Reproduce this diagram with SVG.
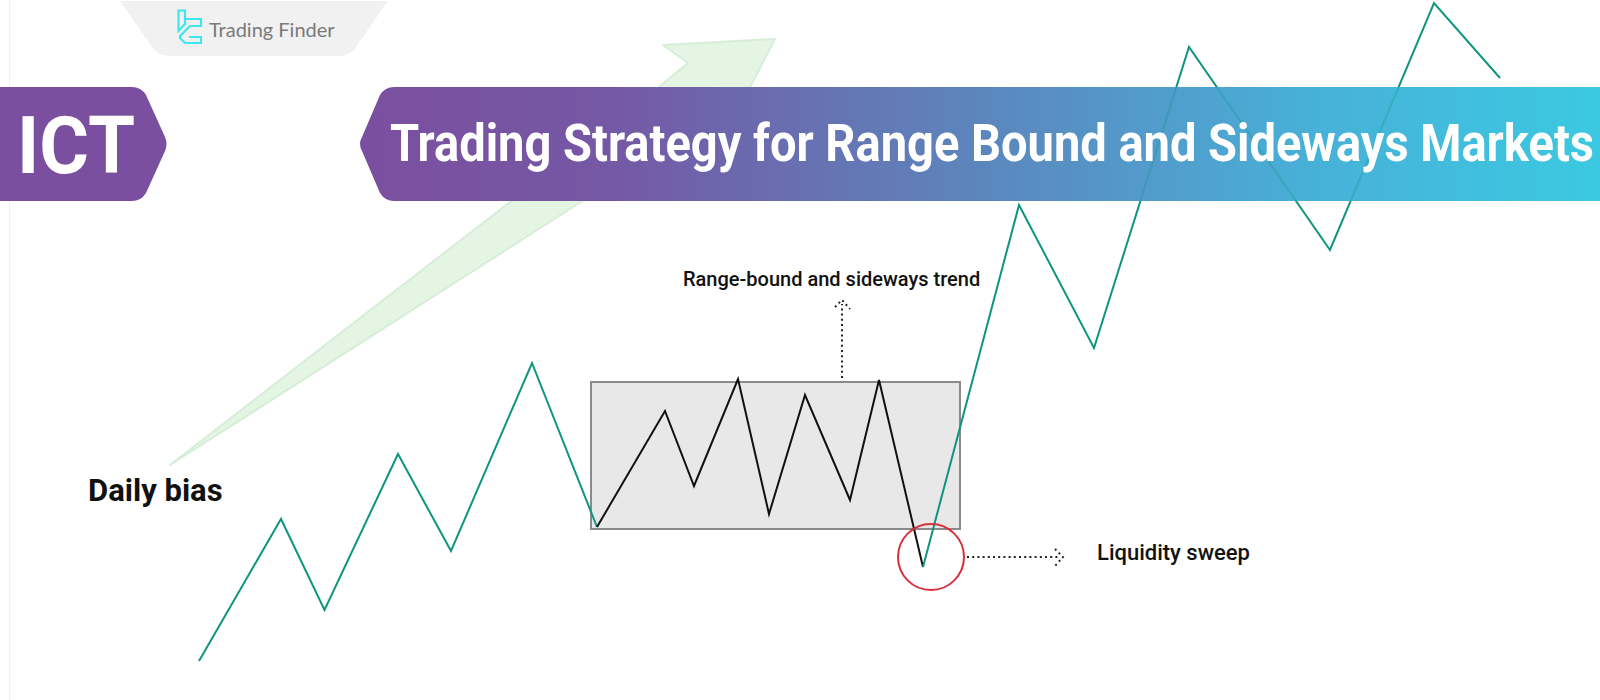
<svg xmlns="http://www.w3.org/2000/svg" width="1600" height="700" viewBox="0 0 1600 700">
<defs>
<linearGradient id="bannerGrad" gradientUnits="userSpaceOnUse" x1="360" y1="0" x2="1600" y2="0">
<stop offset="0" stop-color="#7b4f9f"/><stop offset="0.2" stop-color="#7558a5"/><stop offset="0.5" stop-color="#5c86bd"/><stop offset="0.78" stop-color="#47b2d9"/><stop offset="1" stop-color="#3bc9e1"/>
</linearGradient>
<clipPath id="bannerClip"><rect x="360" y="87" width="1240" height="114"/></clipPath>
</defs>
<style>
.txt{font-family:Roboto,"Liberation Sans",sans-serif;fill:#111;font-weight:500}
.head{font-family:Roboto,"Liberation Sans",sans-serif;fill:#fff;font-weight:700}
.teal{fill:none;stroke:#0f9480;stroke-width:2;stroke-linejoin:miter}
.dots{fill:none;stroke:#222;stroke-width:2;stroke-dasharray:2 3.2}
</style>
<rect width="1600" height="700" fill="#fff"/>
<line x1="9.5" y1="0" x2="9.5" y2="700" stroke="#f1f1f1"/>
<g id="logo">
<path d="M120 1H388L358 44Q352 56 338 56H172Q156 56 150 44Z" fill="#f1f1f1"/>
<path d="M178.500 10.500H185V24L178.500 31ZM186 19H201V26H190L180 36V38L185 43H201V37H189" fill="none" stroke="#3fe6ee" stroke-width="2.200"/>
<text x="209" y="37" font-family="Lato,'Liberation Sans',sans-serif" font-size="20" fill="#7a7a7a">Trading Finder</text>
</g>
<g id="daily-arrow">
<path d="M170 465L660 86L688 63L663 45L775 39L745 97Z" fill="#e4f5e4" stroke="#d6eed8" stroke-width="2" stroke-linejoin="round"/>
</g>
<g id="range-box">
<rect x="591" y="382" width="369" height="147" fill="#e8e8e8" stroke="#8a8a8a" stroke-width="2"/>
</g>
<g id="connectors">
<polyline class="teal" points="199,661 281,519 324.500,610 398,454 451,551 532,363 597,527"/>
<polyline fill="none" stroke="#111" stroke-width="2" points="597,527 665,411 694,486 738,379 769,514 805,395 850,500 879,380 923,567"/>
<polyline class="teal" points="923,567 1019,205 1094,348 1189,47 1330,250 1434,3 1500,78"/>
<path class="dots" d="M842 378V304"/>
<path class="dots" d="M835 307L842 300L850 309"/>
<path class="dots" d="M967 557H1060"/>
<path class="dots" d="M1055 549L1063 557L1055 566"/>
</g>
<g id="sweep-circle">
<circle cx="931" cy="557" r="33" fill="none" stroke="#d8303f" stroke-width="2"/>
</g>
<g id="ict-banner">
<path d="M0 87H132Q141 87 146 95L165 137Q168 144 165 151L146 193Q141 201 132 201H0Z" fill="#7b4f9f"/>
<text class="head" x="17" y="173" font-size="80" textLength="118" lengthAdjust="spacingAndGlyphs">ICT</text>
</g>
<g id="title-banner">
<path d="M1600 87H394Q385 87 380 95L362 137Q358 144 362 151L380 193Q385 201 394 201H1600Z" fill="url(#bannerGrad)"/>
<polyline clip-path="url(#bannerClip)" fill="none" stroke="#0f9480" stroke-width="2" stroke-opacity="0.28" points="1019,205 1094,348 1189,47 1330,250 1434,3"/>
<text class="head" transform="translate(390 161) scale(0.8756 1)" x="0" y="0" font-size="52" textLength="1375" lengthAdjust="spacingAndGlyphs">Trading Strategy for Range Bound and Sideways Markets</text>
</g>
<g id="labels">
<text class="txt" x="88" y="501" font-size="31" style="font-weight:700">Daily bias</text>
<text class="txt" x="683" y="286" font-size="20">Range-bound and sideways trend</text>
<text class="txt" x="1097" y="560" font-size="22">Liquidity sweep</text>
</g>
</svg>
